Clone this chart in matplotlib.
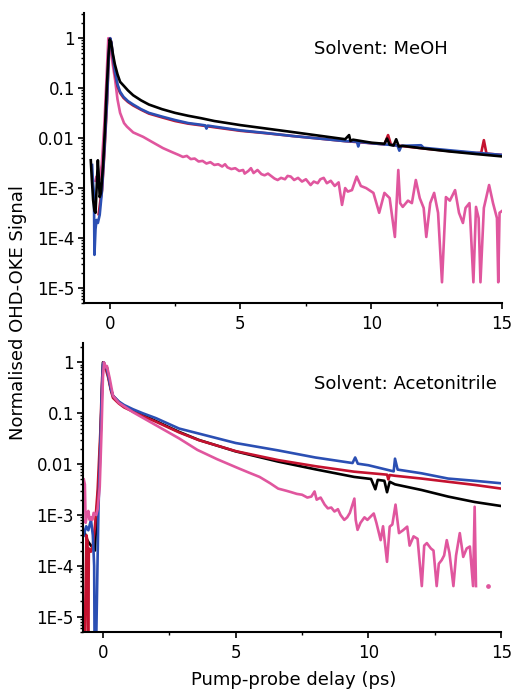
import numpy as np
import matplotlib
matplotlib.use("Agg")
import matplotlib.pyplot as plt
from matplotlib.ticker import FixedLocator, FixedFormatter, LogLocator, NullFormatter

# ---------------- data ----------------
# Solvent: MeOH (top panel)
t_meoh_black = [-0.72, -0.68, -0.63, -0.58, -0.54, -0.49, -0.45, -0.41, -0.38, -0.33, -0.25, -0.18,
                -0.11, -0.05, 0.0, 0.05, 0.12, 0.2, 0.3, 0.4, 0.55, 0.7, 0.9, 1.2, 1.5, 2.0, 2.5,
                3.0, 3.5, 4.0, 5.0, 6.0, 7.0, 8.0, 9.0, 9.15, 9.2, 9.3, 10.0, 10.5, 10.6, 10.7,
                10.85, 10.95, 11.05, 11.2, 12.0, 13.0, 14.0, 15.0]
y_meoh_black = [3.6e-3, 1.5e-3, 5.7e-4, 3.5e-4, 3.2e-4, 1.2e-3, 3.6e-3, 1.5e-3, 6.6e-4, 8e-4, 3e-3, 1.5e-2,
                0.1, 0.4, 0.95, 0.85, 0.5, 0.3, 0.19, 0.134, 0.11, 0.09, 0.072, 0.057, 0.047, 0.038, 0.032,
                0.028, 0.025, 0.022, 0.0182, 0.0155, 0.0132, 0.0112, 0.0095, 0.0115, 0.0088, 0.0093, 0.0081, 0.0077, 0.0098, 0.0074,
                0.0071, 0.0095, 0.0068, 0.0070, 0.0062, 0.0054, 0.0048, 0.0043]

t_meoh_red = [-0.42, -0.35, -0.29, -0.2, -0.1, -0.03, 0.02, 0.07, 0.12, 0.2, 0.3, 0.4, 0.53, 0.7, 0.9,
              1.2, 1.5, 2.0, 2.5, 3.0, 3.5, 4.0, 5.0, 6.0, 7.0, 8.0, 9.0, 10.0, 10.5, 10.64, 10.75,
              11.0, 12.0, 13.0, 14.0, 14.2, 14.3, 14.4, 15.0]
y_meoh_red = [3e-4, 5.8e-4, 9e-4, 5e-3, 0.05, 0.45, 1.0, 0.8, 0.42, 0.2, 0.11, 0.08, 0.064, 0.053, 0.045,
              0.037, 0.031, 0.026, 0.022, 0.0195, 0.018, 0.0165, 0.014, 0.0125, 0.011, 0.0098, 0.0087, 0.0079, 0.0075, 0.0115, 0.0074,
              0.0071, 0.0062, 0.0055, 0.005, 0.0051, 0.0091, 0.0049, 0.0046]

t_meoh_blue = [-0.67, -0.65, -0.63, -0.6, -0.58, -0.54, -0.5, -0.45, -0.38, -0.3, -0.2, -0.1, -0.03, 0.02,
               0.07, 0.12, 0.2, 0.3, 0.4, 0.53, 0.7, 0.9, 1.2, 1.5, 2.0, 2.5, 3.0, 3.5, 3.65, 3.7, 3.75,
               4.0, 5.0, 6.0, 7.0, 8.0, 9.0, 9.45, 9.5, 9.55, 10.0, 11.0, 11.07, 11.15, 11.9, 12.0,
               13.0, 14.0, 15.0]
y_meoh_blue = [2.9e-3, 1.8e-3, 1.2e-3, 8e-4, 4.6e-5, 1.5e-4, 2.3e-4, 2e-4, 2.9e-4, 8e-4, 6e-3, 0.06, 0.5, 1.0,
               0.8, 0.45, 0.22, 0.12, 0.085, 0.067, 0.055, 0.047, 0.038, 0.032, 0.027, 0.023, 0.02, 0.0185, 0.018, 0.0155, 0.0178,
               0.017, 0.0143, 0.0126, 0.011, 0.0098, 0.0087, 0.0085, 0.0068, 0.0084, 0.0079, 0.0071, 0.0056, 0.0070, 0.0072, 0.0064,
               0.0057, 0.0051, 0.0046]

t_meoh_pink = [-0.54, -0.5, -0.45, -0.38, -0.3, -0.2, -0.12, -0.05, 0.0, 0.1, 0.21, 0.3, 0.4, 0.55, 0.66,
               0.9, 1.28, 1.6, 2.04, 2.4, 2.64, 2.8, 2.95, 3.1, 3.25, 3.4, 3.55, 3.7, 3.85, 4.0, 4.15,
               4.3, 4.41, 4.5, 4.65, 4.8, 4.95, 5.1, 5.16, 5.3, 5.4, 5.5, 5.65, 5.8, 5.92, 6.05, 6.2,
               6.3, 6.42, 6.55, 6.7, 6.8, 6.92, 7.05, 7.2, 7.35, 7.5, 7.68, 7.8, 7.95, 8.05, 8.18,
               8.3, 8.45, 8.6, 8.75, 8.88, 9.0, 9.1, 9.26, 9.44, 9.6, 9.8, 10.08, 10.3, 10.5,
               10.7, 10.9, 11.03, 11.1, 11.2, 11.4, 11.55, 11.7, 11.85, 12.0, 12.1, 12.25, 12.4, 12.55,
               12.7, 12.85, 13.0, 13.2, 13.35, 13.5, 13.6, 13.75, 13.9, 14.0, 14.1, 14.17, 14.3, 14.5,
               14.65, 14.8, 14.85, 14.9, 15.0]
y_meoh_pink = [1.4e-3, 1.7e-3, 1.3e-3, 1.5e-3, 3e-3, 0.02, 0.15, 1.0, 0.9, 0.35, 0.145, 0.06, 0.032, 0.02, 0.017,
               0.013, 0.0106, 0.0085, 0.0063, 0.0052, 4.6e-3, 4.2e-3, 4.4e-3, 3.8e-3, 3.9e-3, 3.4e-3, 3.5e-3, 3.1e-3, 3.3e-3, 2.9e-3, 3.0e-3,
               2.7e-3, 3.0e-3, 2.6e-3, 2.4e-3, 2.5e-3, 2.2e-3, 2.3e-3, 1.95e-3, 2.2e-3, 2.5e-3, 2.0e-3, 2.3e-3, 1.9e-3, 1.8e-3, 1.95e-3, 1.7e-3,
               1.55e-3, 1.45e-3, 1.6e-3, 1.5e-3, 1.75e-3, 1.7e-3, 1.45e-3, 1.6e-3, 1.35e-3, 1.5e-3, 1.15e-3, 1.35e-3, 1.25e-3, 1.5e-3, 1.6e-3,
               1.25e-3, 1.4e-3, 1.1e-3, 1.3e-3, 4.6e-4, 1.0e-3, 8.5e-4, 9.1e-4, 1.7e-3, 1.1e-3, 1.0e-3, 8e-4, 3.2e-4, 8e-4,
               6.3e-4, 1.05e-4, 2.3e-3, 5e-4, 4.2e-4, 5.6e-4, 5e-4, 1.45e-3, 6.3e-4, 4e-4, 1.05e-4, 5e-4, 8e-4, 3.2e-4,
               1.3e-5, 6.6e-4, 5.6e-4, 9.1e-4, 3.2e-4, 2e-4, 4e-4, 5e-4, 1.3e-5, 4.2e-4, 2.5e-4, 1.3e-5, 4e-4, 1.15e-3,
               5e-4, 2.5e-4, 1.3e-5, 3.2e-4, 3.5e-4]

# Solvent: Acetonitrile (bottom panel)
t_acn_black = [-0.72, -0.59, -0.52, -0.45, -0.3, -0.25, -0.15, -0.08, 0.0, 0.05, 0.1, 0.15, 0.2, 0.3, 0.38,
               0.6, 0.8, 1.13, 1.5, 2.0, 2.87, 3.6, 5.0, 6.6, 8.0, 9.46, 10.1, 10.26, 10.35, 10.6, 10.7,
               10.8, 11.0, 12.0, 13.0, 14.0, 15.0]
y_acn_black = [5e-4, 3.2e-4, 2.8e-4, 2.5e-4, 2e-4, 8e-4, 5e-3, 0.05, 1.0, 0.95, 0.75, 0.8, 0.55, 0.3, 0.22,
               0.165, 0.138, 0.112, 0.092, 0.07, 0.043, 0.030, 0.0178, 0.0112, 0.0079, 0.0056, 0.0051, 0.0032, 0.0049, 0.0047, 0.0028,
               0.0045, 0.004, 0.0031, 0.0023, 0.0018, 0.0015]

t_acn_red = [-0.7, -0.62, -0.58, -0.56, -0.53, -0.45, -0.38, -0.3, -0.2, -0.1, -0.03, 0.02, 0.07, 0.12,
             0.2, 0.3, 0.38, 0.6, 0.8, 1.13, 1.5, 2.0, 2.87, 3.62, 5.0, 6.6, 8.0, 9.46, 10.7, 10.75,
             10.8, 11.0, 12.0, 13.0, 14.0, 15.0]
y_acn_red = [1e-6, 4e-4, 3e-4, 1e-6, 2.2e-4, 1.9e-4, 2.5e-4, 6e-4, 3e-3, 0.04, 0.5, 1.0, 0.9, 0.7,
             0.5, 0.28, 0.2, 0.155, 0.13, 0.108, 0.088, 0.068, 0.042, 0.0295, 0.018, 0.012, 0.0091, 0.0071, 0.0062, 0.0050,
             0.0061, 0.0059, 0.0052, 0.0045, 0.0039, 0.0033]

t_acn_blue = [-0.72, -0.63, -0.55, -0.45, -0.38, -0.33, -0.31, -0.27, -0.17, -0.1, -0.05, 0.0, 0.03, 0.08,
              0.15, 0.22, 0.3, 0.38, 0.6, 0.8, 1.13, 1.5, 2.0, 2.87, 3.6, 5.0, 6.6, 8.0, 9.4, 9.5, 9.6,
              10.0, 10.95, 11.0, 11.1, 12.0, 13.0, 14.0, 15.0]
y_acn_blue = [4e-4, 6e-4, 5e-4, 8e-4, 4e-4, 1e-4, 1e-6, 1e-6, 1.2e-3, 0.02, 0.2, 0.9, 1.0, 0.85,
              0.75, 0.5, 0.3, 0.22, 0.17, 0.145, 0.12, 0.1, 0.08, 0.05, 0.04, 0.026, 0.0186, 0.0135, 0.0105, 0.0135, 0.0102,
              0.0095, 0.0072, 0.0128, 0.0078, 0.0066, 0.0052, 0.0047, 0.0042]

t_acn_pink = [-0.72, -0.68, -0.65, -0.6, -0.55, -0.5, -0.45, -0.4, -0.35, -0.25, -0.2, -0.12, -0.05, 0.0,
              0.04, 0.1, 0.15, 0.25, 0.38, 0.6, 1.13, 2.0, 2.87, 3.56, 4.3, 5.1, 5.5, 5.9, 6.3, 6.6,
              6.9, 7.1, 7.3, 7.5, 7.7, 7.85, 7.97, 8.05, 8.2, 8.35, 8.47, 8.6, 8.72, 8.85, 8.95, 9.09,
              9.2, 9.3, 9.47, 9.52, 9.59, 9.7, 9.85, 9.96, 10.1, 10.2, 10.3, 10.46, 10.55, 10.7, 10.8,
              10.9, 11.02, 11.15, 11.3, 11.46, 11.55, 11.7, 11.85, 12.01, 12.1, 12.2, 12.35, 12.45, 12.57,
              12.65, 12.76, 12.85, 12.95, 13.05, 13.2, 13.3, 13.44, 13.57, 13.7, 13.82, 13.94, 14.0, 14.05]
y_acn_pink = [5e-3, 4e-3, 7e-4, 1e-3, 1.2e-3, 8e-4, 9e-4, 8e-4, 1.1e-3, 1e-3, 1.3e-3, 3.6e-3, 0.05, 0.5,
              1.0, 0.8, 0.85, 0.5, 0.22, 0.16, 0.105, 0.058, 0.032, 0.019, 0.0125, 8.3e-3, 6.8e-3, 5.6e-3, 4.2e-3, 3.3e-3,
              3.0e-3, 2.8e-3, 2.6e-3, 2.5e-3, 2.2e-3, 2.3e-3, 2.9e-3, 2.0e-3, 2.2e-3, 1.6e-3, 1.35e-3, 1.4e-3, 1.17e-3, 1.3e-3, 1.0e-3, 8e-4,
              9e-4, 1.1e-3, 2.1e-3, 8e-4, 5.1e-4, 7e-4, 9e-4, 8e-4, 9.5e-4, 1.07e-3, 7e-4, 3.2e-4, 6e-4, 1.2e-4, 5.9e-4,
              6.5e-4, 1.6e-3, 4.4e-4, 5e-4, 5.9e-4, 2.5e-4, 3.8e-4, 3.4e-4, 4e-5, 2.5e-4, 2.8e-4, 2.2e-4, 2.0e-4, 4e-5,
              1.1e-4, 1.3e-4, 1.6e-4, 3.2e-4, 1.8e-4, 4e-5, 1.6e-4, 4.4e-4, 1.5e-4, 2.2e-4, 2.4e-4, 4e-5, 1.45e-3, 4e-5]
t_acn_pink_dot = [14.52]
y_acn_pink_dot = [4e-5]

ytick_vals = [1e-5, 1e-4, 1e-3, 1e-2, 1e-1, 1]
ytick_labels = ["1E-5", "1E-4", "1E-3", "0.01", "0.1", "1"]
xtick_vals = [0, 5, 10, 15]

BLACK = "#000000"
RED = "#c4122f"
BLUE = "#2b4fb3"
PINK = "#e0569e"

plt.rcParams['font.family'] = ['DejaVu Sans']

fig = plt.figure(figsize=(5.14, 6.94), dpi=100)
ax1 = fig.add_axes([0.1634, 0.5634, 0.8136, 0.4179])
ax2 = fig.add_axes([0.1615, 0.0893, 0.8136, 0.4164])

lw = 1.9
# top panel: MeOH
ax1.plot(t_meoh_pink, y_meoh_pink, color=PINK, lw=lw)
ax1.plot(t_meoh_red, y_meoh_red, color=RED, lw=lw)
ax1.plot(t_meoh_blue, y_meoh_blue, color=BLUE, lw=lw)
ax1.plot(t_meoh_black, y_meoh_black, color=BLACK, lw=lw)

# bottom panel: acetonitrile
ax2.plot(t_acn_black, y_acn_black, color=BLACK, lw=lw)
ax2.plot(t_acn_red, y_acn_red, color=RED, lw=lw)
ax2.plot(t_acn_blue, y_acn_blue, color=BLUE, lw=lw)
ax2.plot(t_acn_pink, y_acn_pink, color=PINK, lw=lw)
ax2.plot(t_acn_pink_dot, y_acn_pink_dot, 'o', color=PINK, ms=2.4)

for ax, xmin, ytop in [(ax1, -0.98, 3.2), (ax2, -0.75, 2.4)]:
    ax.set_yscale('log')
    ax.set_xlim(xmin, 15)
    ax.set_ylim(5e-6, ytop)
    for s in ['top', 'right']:
        ax.spines[s].set_visible(False)
    for s in ['left', 'bottom']:
        ax.spines[s].set_linewidth(1.5)
    ax.yaxis.set_major_locator(FixedLocator(ytick_vals))
    ax.yaxis.set_major_formatter(FixedFormatter(ytick_labels))
    ax.yaxis.set_minor_locator(LogLocator(base=10, subs=np.arange(2, 10), numticks=20))
    ax.yaxis.set_minor_formatter(NullFormatter())
    ax.set_xticks(xtick_vals)
    ax.set_xticks([2.5, 7.5, 12.5], minor=True)
    ax.tick_params(which='major', direction='out', length=4.5, width=1.2, labelsize=12, pad=2)
    ax.tick_params(which='minor', direction='out', length=2.3, width=1.0)
    ax.tick_params(axis='x', which='major', pad=4)

ax1.text(0.71, 0.875, "Solvent: MeOH", transform=ax1.transAxes, ha='center', va='center', fontsize=13)
ax2.text(0.77, 0.86, "Solvent: Acetonitrile", transform=ax2.transAxes, ha='center', va='center', fontsize=13)

fig.text(0.035, 0.549, "Normalised OHD-OKE Signal", rotation=90, ha='center', va='center', fontsize=13)
fig.text(0.572, 0.02, "Pump-probe delay (ps)", ha='center', va='center', fontsize=13)

fig.savefig("out.png", dpi=100)
